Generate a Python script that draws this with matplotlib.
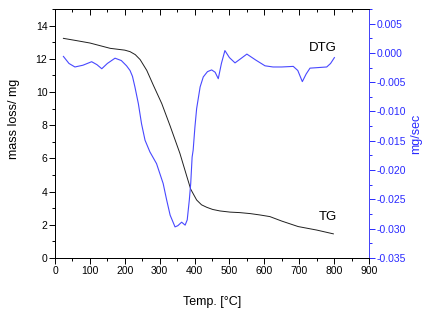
import numpy as np
import matplotlib.pyplot as plt
from matplotlib.ticker import MultipleLocator

plt.rcParams['font.family'] = ['Liberation Sans', 'DejaVu Sans']

# TG curve, mass loss in mg
tg_temp = [24, 60, 100, 158, 200, 215, 230, 244, 263, 282, 306, 330, 358, 378,
           389, 406, 420, 435, 452, 473, 502, 530, 560, 587, 616, 650, 697, 750, 798]
tg_mass = [13.23, 13.1, 12.95, 12.63, 12.52, 12.43, 12.25, 11.95, 11.3, 10.4,
           9.3, 7.95, 6.3, 4.9, 4.14, 3.49, 3.2, 3.05, 2.92, 2.83, 2.76, 2.73,
           2.67, 2.59, 2.49, 2.22, 1.89, 1.68, 1.45]

# DTG curve, mg/sec
dtg_temp = [24, 40, 57, 80, 105, 120, 134, 150, 172, 190, 205, 215, 222, 229, 239, 248,
            258, 272, 291, 310, 320, 330, 344, 352, 363, 373, 379, 385, 389, 393, 396,
            401, 406, 416, 425, 437, 449, 459, 468, 477, 487, 500, 516, 532, 550,
            575, 602, 625, 650, 683, 696, 709, 720, 731, 755, 779, 790, 801]
dtg_rate = [-0.0006, -0.0018, -0.0024, -0.0021, -0.0015, -0.002, -0.0027, -0.0018,
            -0.0009, -0.0013, -0.0022, -0.0030, -0.0040, -0.0058, -0.0087, -0.0121,
            -0.0149, -0.0169, -0.0189, -0.0223, -0.0251, -0.0277, -0.0297, -0.0295,
            -0.0289, -0.0294, -0.0285, -0.0251, -0.0223, -0.0178, -0.0166,
            -0.0127, -0.0095, -0.0058, -0.0041, -0.0032, -0.0029, -0.0033, -0.0044,
            -0.0018, 0.0004, -0.0008, -0.0017, -0.0010, -0.0002, -0.0012, -0.0022,
            -0.0024, -0.0024, -0.0023, -0.0030, -0.0049, -0.0036, -0.0026, -0.0025,
            -0.0024, -0.0018, -0.0008]

blue = '#4848ff'
blue_txt = '#2a2aff'

fig = plt.figure(figsize=(4.3, 3.1), dpi=100)
ax = fig.add_axes([0.128, 0.168, 0.730, 0.803])
ax2 = ax.twinx()

ax.plot(tg_temp, tg_mass, color='#202020', lw=0.7)
ax2.plot(dtg_temp, dtg_rate, color=blue, lw=0.8)

ax.set_xlim(0, 900)
ax.set_ylim(0, 15)
ax2.set_ylim(-0.035, 0.0075)

ax.xaxis.set_major_locator(MultipleLocator(100))
ax.xaxis.set_minor_locator(MultipleLocator(50))
ax.yaxis.set_major_locator(MultipleLocator(2))
ax.yaxis.set_minor_locator(MultipleLocator(1))
ax2.yaxis.set_major_locator(MultipleLocator(0.005))
ax2.yaxis.set_minor_locator(MultipleLocator(0.0025))
ax2.yaxis.set_major_formatter(lambda v, p: f'{v:.3f}')

ax.tick_params(which='major', direction='out', length=4, width=0.7, labelsize=7.5, pad=1.5)
ax.tick_params(which='minor', direction='out', length=2.5, width=0.7)
ax2.tick_params(which='major', direction='out', length=4, width=0.7, labelsize=7.5,
                pad=1.5, colors=blue_txt)
ax2.tick_params(which='minor', direction='out', length=2.5, width=0.7, colors=blue_txt)

top = ax.secondary_xaxis('top')
top.xaxis.set_major_locator(MultipleLocator(100))
top.xaxis.set_minor_locator(MultipleLocator(50))
top.tick_params(which='major', direction='in', length=4, width=0.7, labeltop=False)
top.tick_params(which='minor', direction='in', length=2.5, width=0.7)

for s in ax.spines.values():
    s.set_linewidth(0.7)
for s in ax2.spines.values():
    s.set_linewidth(0.7)
ax2.spines['right'].set_color(blue)
top.spines['top'].set_linewidth(0.7)

ax.set_xlabel('Temp. [°C]', fontsize=9, labelpad=15)
ax.set_ylabel('mass loss/ mg', fontsize=9)
ax.yaxis.set_label_coords(-0.112, 0.56)
ax2.set_ylabel('mg/sec', fontsize=9, color=blue_txt, labelpad=3)

ax.text(768, 12.65, 'DTG', fontsize=9.5, ha='center', va='center')
ax.text(783, 2.47, 'TG', fontsize=9.5, ha='center', va='center')

fig.savefig('out.png', dpi=100)
